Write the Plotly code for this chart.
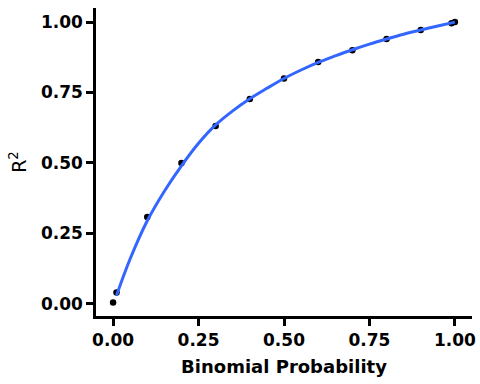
import plotly.graph_objects as go

prob = [0.0, 0.01, 0.1, 0.2, 0.3, 0.4, 0.5, 0.6, 0.7, 0.8, 0.9, 0.99, 1.0]
r2 = [0.005, 0.04, 0.308, 0.50, 0.631, 0.727, 0.80, 0.858, 0.90, 0.94, 0.972, 0.996, 1.0]

fit_x = [0.01, 0.05, 0.1, 0.15, 0.2, 0.25, 0.3, 0.35, 0.4, 0.45, 0.5, 0.55, 0.6, 0.65, 0.7, 0.75, 0.8, 0.85, 0.9, 0.95, 1.0]
fit_y = [0.03, 0.16, 0.295, 0.40, 0.49, 0.57, 0.635, 0.685, 0.728, 0.765, 0.80, 0.83, 0.857, 0.88, 0.902, 0.922, 0.94, 0.957, 0.972, 0.986, 1.0]

ticks = [0, 0.25, 0.5, 0.75, 1.0]
tick_text = ["0.00", "0.25", "0.50", "0.75", "1.00"]

fig = go.Figure()
fig.add_trace(go.Scatter(x=prob, y=r2, mode="markers",
                         marker=dict(color="black", size=6.5), showlegend=False))
fig.add_trace(go.Scatter(x=fit_x, y=fit_y, mode="lines", line_shape="spline",
                         line=dict(color="#3366FF", width=3), showlegend=False))

axis_common = dict(showgrid=False, zeroline=False, showline=True, linecolor="black", linewidth=2.5,
                   ticks="outside", ticklen=7, tickwidth=2.5, tickcolor="black",
                   tickfont=dict(family="DejaVu Sans", size=17, color="black", weight="bold"),
                   tickvals=ticks, ticktext=tick_text)

fig.update_layout(
    width=480, height=384,
    margin=dict(l=96, r=8, t=8, b=68),
    paper_bgcolor="white", plot_bgcolor="white",
    xaxis=dict(range=[-0.05, 1.05],
               title=dict(text="<b>Binomial Probability</b>", font=dict(family="DejaVu Sans", size=18, color="black"), standoff=12),
               automargin=False,
               **axis_common),
    yaxis=dict(range=[-0.043, 1.05],
               title=dict(text="R<sup>2</sup>", font=dict(family="DejaVu Sans", size=19, color="black"), standoff=10),
               automargin=False,
               **axis_common),
)

fig.write_html("out.html", config={"displayModeBar": False},
               post_script="document.body.style.margin='0';")
